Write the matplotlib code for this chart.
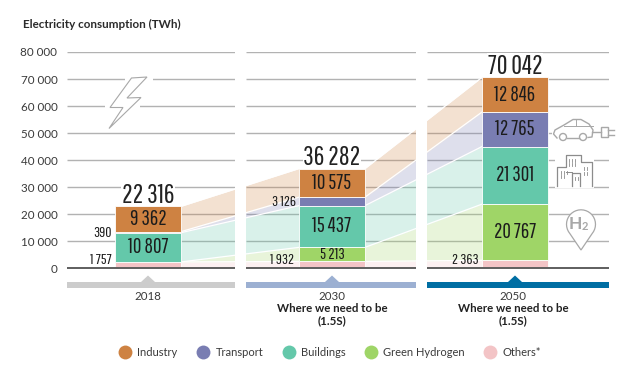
#!/usr/bin/env python3
# -*- coding: utf-8 -*-
"""
Electricity consumption by sector, 2018 / 2030 / 2050
"""
import logging
import numpy as np
import matplotlib.pyplot as plt
from matplotlib.lines import Line2D
from matplotlib.patches import Circle, Polygon, Rectangle

logging.getLogger('matplotlib.font_manager').setLevel(logging.ERROR)

years = ['2018', '2030', '2050']
sectors = ['Others*', 'Green Hydrogen', 'Buildings', 'Transport', 'Industry']
others = [1757, 1932, 2363]
hydrogen = [0, 5213, 20767]
buildings = [10807, 15437, 21301]
transport = [390, 3126, 12765]
industry = [9362, 10575, 12846]
totals = [22316, 36282, 70042]
yticks = [0, 10000, 20000, 30000, 40000, 50000, 60000, 70000, 80000]

colors = ['#F3C4C6', '#9FD567', '#64C8AA', '#797DB2', '#CE8242']
narrow = ['Pathway Gothic One', 'Liberation Sans', 'DejaVu Sans']
body = ['Lato', 'DejaVu Sans']
textCol = '#3a3a3a'
inkCol = '#1c1c1c'

W, H = 632, 374
plt.rcParams['font.family'] = body
fig = plt.figure(figsize=(W/100, H/100), dpi=100)

# main axes: x is in picture pixels, y in TWh
ax = fig.add_axes([67/W, 1 - 268.3/H, (609 - 67)/W, (268.3 - 52)/H])
ax.set_xlim(67, 609)
ax.set_ylim(0, 80000)
for s in ax.spines.values():
    s.set_visible(False)
ax.set_xticks([])
ax.set_yticks(yticks)
ax.set_yticklabels([f'{v:,}'.replace(',', ' ') for v in yticks],
                   fontsize=8.4, color=textCol)
ax.tick_params(axis='y', length=0, pad=7)

panels = [(67, 235), (246, 416), (427, 609)]
barLeft = [115, 299, 482]
barWidth = 66
lift = 600  # bars stand a little above the baseline

# gridlines per panel
for x0, x1 in panels:
    ax.hlines(yticks[1:], x0, x1, color='#b2b2b2', lw=1.0, zorder=1)
    ax.hlines(0, x0, x1, color='#333333', lw=1.1, zorder=6, clip_on=False)

stack = np.array([others, hydrogen, buildings, transport, industry])
tops = stack.cumsum(axis=0) + lift
bottoms = tops - stack

# pale bands running between the bars
for j in range(2):
    xs = [barLeft[j] + barWidth, barLeft[j + 1]]
    for i in range(5):
        ax.fill_between(xs, bottoms[i, j:j+2], tops[i, j:j+2],
                        color=colors[i], alpha=0.24, lw=0, zorder=2)
        ax.plot(xs, tops[i, j:j+2], color='white', lw=0.9, zorder=3)

# white gaps between the panels
for x0, x1 in [(235, 246), (416, 427)]:
    ax.axvspan(x0, x1, color='white', lw=0, zorder=4)

# stacked bars
for i in range(5):
    ax.bar(barLeft, stack[i], bottom=bottoms[i], width=barWidth, align='edge',
           color=colors[i], edgecolor='white', lw=0.6, zorder=5)


def fmt(v):
    return f'{v:,}'.replace(',', ' ')


def inBar(j, i, size=15):
    ax.text(barLeft[j] + barWidth/2, bottoms[i, j] + stack[i, j]/2, fmt(stack[i, j]),
            ha='center', va='center', family=narrow, fontsize=size, color=inkCol, zorder=7)


for j in range(3):
    # totals sit under the bars so their white box only breaks the gridlines
    ax.text(barLeft[j] + barWidth/2, totals[j] + 100, fmt(totals[j]), ha='center', va='bottom',
            family=narrow, fontsize=19, color='#222222', zorder=4.5,
            bbox=dict(fc='white', ec='none', pad=0.5))
    inBar(j, 4)
    inBar(j, 2)
inBar(2, 3)
inBar(2, 1)
inBar(1, 1, 11.5)

# labels left of the bars
sideSize = 11
ax.text(112, 2900, fmt(others[0]), ha='right', va='center', family=narrow, fontsize=sideSize,
        color=inkCol, zorder=7)
ax.text(294, 2900, fmt(others[1]), ha='right', va='center', family=narrow, fontsize=sideSize,
        color=inkCol, zorder=7)
ax.text(479, 2900, fmt(others[2]), ha='right', va='center', family=narrow, fontsize=sideSize,
        color=inkCol, zorder=7)
ax.text(112, 13200, fmt(transport[0]), ha='right', va='center', family=narrow, fontsize=sideSize,
        color=inkCol, zorder=7)
ax.text(296, 24600, fmt(transport[1]), ha='right', va='center', family=narrow, fontsize=sideSize,
        color=inkCol, zorder=7)

# overlay in pixel coordinates for title, ribbons and icons
ov = fig.add_axes([0, 0, 1, 1], facecolor='none')
ov.set_xlim(0, W)
ov.set_ylim(H, 0)
ov.axis('off')

ov.text(23, 24.5, 'Electricity consumption (TWh)', fontsize=8.4, fontweight='bold',
        color='#2b2b2b', va='center', ha='left')

ribbonCols = ['#CCCCCC', '#9CB0D2', '#006EA3']
for (x0, x1), bl, col, yr in zip(panels, barLeft, ribbonCols, years):
    xc = bl + barWidth/2
    ov.add_patch(Rectangle((x0, 281.7), x1 - x0, 6.5, fc=col, ec='none'))
    ov.add_patch(Polygon([(xc - 7, 282), (xc, 275.5), (xc + 7, 282)], fc=col, ec='none'))
    ov.text(xc - (2 if yr == '2050' else 0), 297, yr, ha='center', va='center', fontsize=8.3,
            color=textCol)
    if yr != '2018':
        ov.text(xc - (2 if yr == '2050' else 0), 309, 'Where we need to be', ha='center',
                va='center', fontsize=8.3, fontweight='bold', color='#222222')
        ov.text(xc - (2 if yr == '2050' else 0), 321, '(1.5S)', ha='center', va='center',
                fontsize=8.3, fontweight='bold', color='#222222')

iconCol = '#a8a8a8'
# lightning bolt, with a white halo breaking the gridlines
boltPts = [(131.5, 78), (147, 77), (127, 98), (141, 97.5), (109, 128.5), (123, 107.5), (110, 107.5)]
ov.add_patch(Rectangle((125, 74), 28, 8, fc='white', ec='none'))
ov.add_patch(Rectangle((105, 102), 35, 7, fc='white', ec='none'))
ov.add_patch(Polygon(boltPts, fc='white', ec=iconCol, lw=0.8))

# car with plug
ov.add_patch(Rectangle((552, 118), 63, 24, fc='white', ec='none'))
carX = [557, 553.5, 555, 564, 573, 581, 589, 593, 592, 588]
carY = [138, 134, 130, 125, 119.5, 119.5, 124, 130, 137, 137.5]
ov.plot(carX, carY, color=iconCol, lw=1.0)
ov.plot([567, 579], [137.5, 137.5], color=iconCol, lw=1.0)
ov.plot([564, 593], [126, 126], color=iconCol, lw=0.7)
ov.plot([576, 576], [119.5, 126], color=iconCol, lw=0.7)
ov.add_patch(Circle((563, 137), 3.5, fc='white', ec=iconCol, lw=1.0))
ov.add_patch(Circle((583, 137), 3.5, fc='white', ec=iconCol, lw=1.0))
ov.plot([592, 601], [132, 132], color=iconCol, lw=1.0)
ov.add_patch(Rectangle((601, 127), 7, 10, fc='white', ec=iconCol, lw=1.0))
ov.plot([608, 614], [129.5, 129.5], color=iconCol, lw=1.0)
ov.plot([608, 614], [134.5, 134.5], color=iconCol, lw=1.0)

# buildings
bldCol = '#8c8c8c'
ov.add_patch(Rectangle((555, 154), 39, 34, fc='white', ec='none'))
ov.plot([557, 557, 566, 566, 581, 581, 592, 592],
        [186, 167, 167, 155, 155, 162, 162, 186], color=bldCol, lw=0.9)
ov.plot([572, 572, 580, 580], [186, 173, 173, 186], color=bldCol, lw=0.9)
ov.plot([566, 572], [172, 172], color=bldCol, lw=0.7)
for px, py in [(569, 159), (572, 159), (575, 159), (569, 163), (572, 163), (575, 163),
               (561, 171), (564, 171), (567, 171), (561, 175), (564, 175), (584, 167), (587, 167),
               (584, 172), (587, 172), (575, 177), (578, 177)]:
    ov.plot([px, px], [py, py + 2.5], color=bldCol, lw=0.6)

# hydrogen pin
t = np.radians(np.arange(-220, 41, 10))
pinX = 581 + 14.5*np.cos(t)
pinY = 224.3 + 14.5*np.sin(t)
ov.add_patch(Polygon(list(zip(pinX, pinY)) + [(581, 250)], fc='white', ec=iconCol, lw=0.9))
ov.text(581.5, 224, 'H', ha='right', va='center', fontsize=12.5, color=iconCol, fontweight='bold')
ov.text(581.5, 226, '2', ha='left', va='center', fontsize=8, color=iconCol, fontweight='bold')

# legend
legOrder = [4, 3, 2, 1, 0]
handles = [Line2D([], [], ls='none', marker='o', ms=10, mfc=colors[i], mec='none') for i in legOrder]
fig.legend(handles, [sectors[i] for i in legOrder], loc='center', ncol=5,
           bbox_to_anchor=(329/W, 1 - 352/H), frameon=False, fontsize=8, labelcolor=textCol,
           handletextpad=0.35, columnspacing=1.55, handlelength=1.5)

fig.savefig('out.png', dpi=100)
